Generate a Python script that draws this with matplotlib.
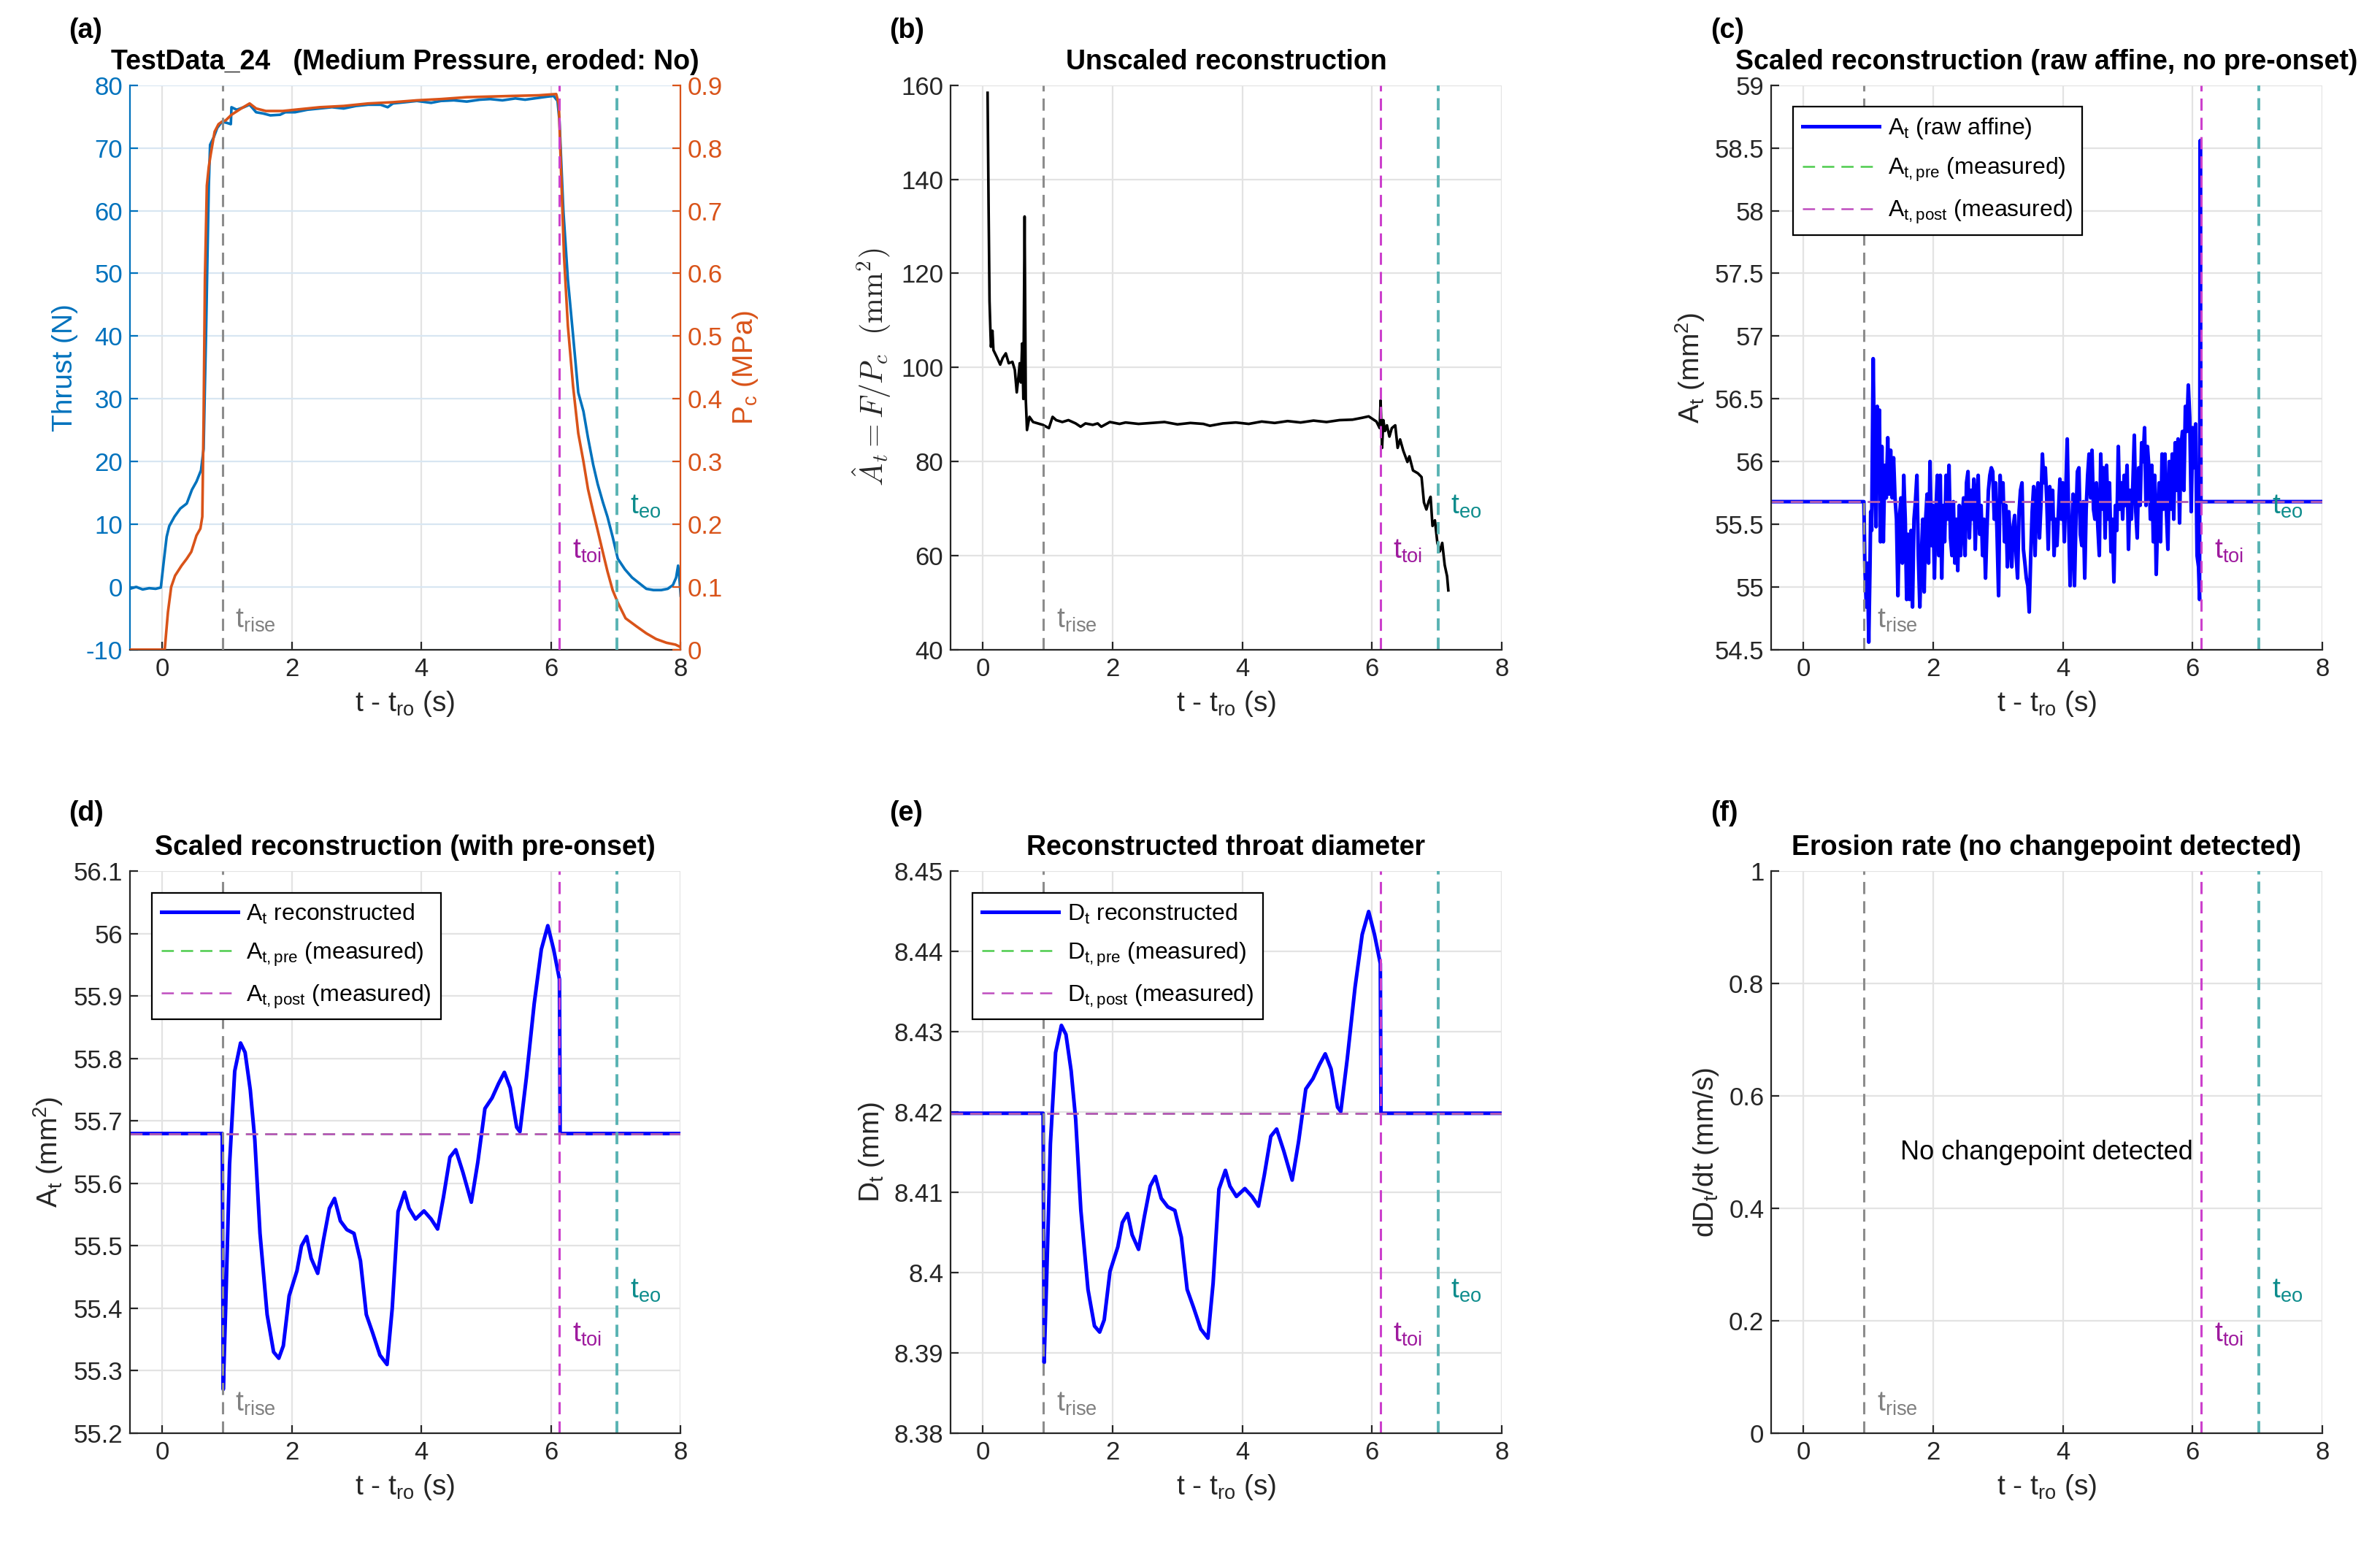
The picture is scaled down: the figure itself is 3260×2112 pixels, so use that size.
import numpy as np
import matplotlib
matplotlib.use('Agg')
import matplotlib.pyplot as plt
import matplotlib.transforms as mtransforms
from matplotlib.ticker import FuncFormatter, MultipleLocator

plt.rcParams['font.family'] = ['Liberation Sans', 'DejaVu Sans']
plt.rcParams['mathtext.fontset'] = 'custom'
plt.rcParams['mathtext.rm'] = 'Liberation Sans'
plt.rcParams['mathtext.it'] = 'Liberation Sans:italic'
plt.rcParams['mathtext.bf'] = 'Liberation Sans:bold'
plt.rcParams['lines.scale_dashes'] = False

# event times (s, relative to t_ro)
t_rise = 0.93
t_toi = 6.13
t_eo = 7.02

# (a) thrust and chamber pressure
t_force = [-0.5, -0.4, -0.3, -0.2, -0.1, -0.02, 0.03, 0.07, 0.11, 0.19, 0.28, 0.38, 0.46, 0.53,
           0.6, 0.64, 0.66, 0.68, 0.70, 0.72, 0.74, 0.8, 0.85, 0.925, 1.0, 1.06, 1.07, 1.15, 1.26,
           1.35, 1.45, 1.56, 1.67, 1.82, 1.9, 2.05, 2.24, 2.43, 2.62, 2.8, 2.99, 3.18, 3.37, 3.48,
           3.56, 3.75, 3.93, 4.15, 4.3, 4.5, 4.7, 4.9, 5.06, 5.25, 5.45, 5.6, 5.81, 5.95, 6.04,
           6.1, 6.13, 6.19, 6.26, 6.34, 6.42, 6.5, 6.57, 6.65, 6.72, 6.8, 6.87, 6.95, 7.03, 7.14,
           7.25, 7.36, 7.47, 7.58, 7.7, 7.8, 7.88, 7.93, 7.96, 7.98, 8.0]
thrust = [-0.3, 0.0, -0.4, -0.2, -0.3, -0.1, 4.5, 8.0, 9.7, 11.2, 12.5, 13.3, 15.5, 16.8,
          18.6, 22.0, 32.0, 41.6, 53.0, 63.9, 70.5, 71.8, 73.2, 74.2, 74.0, 73.8, 76.5, 76.1, 76.5,
          76.9, 75.7, 75.5, 75.2, 75.3, 75.7, 75.7, 76.1, 76.3, 76.5, 76.3, 76.7, 76.9, 76.9, 76.5,
          77.1, 77.3, 77.5, 77.2, 77.5, 77.6, 77.4, 77.7, 77.8, 77.6, 77.9, 77.7, 78.0, 78.2, 78.3,
          77.5, 74.3, 60.0, 49.0, 40.1, 31.0, 28.0, 23.8, 19.5, 16.4, 13.5, 11.2, 8.0, 4.5, 2.8,
          1.5, 0.6, -0.3, -0.5, -0.5, -0.3, 0.3, 1.5, 3.4, 1.5, -1.4]

t_pc = [-0.5, 0.0, 0.04, 0.09, 0.14, 0.2, 0.3, 0.38, 0.45, 0.53, 0.59, 0.62, 0.64, 0.66, 0.69,
        0.72, 0.75, 0.81, 0.87, 0.925, 0.98, 1.07, 1.22, 1.35, 1.45, 1.6, 1.86, 2.05, 2.43, 2.8,
        3.18, 3.56, 3.93, 4.3, 4.7, 5.06, 5.4, 5.81, 6.08, 6.12, 6.15, 6.2, 6.26, 6.34, 6.42, 6.5,
        6.57, 6.65, 6.72, 6.8, 6.87, 6.95, 7.03, 7.15, 7.32, 7.47, 7.62, 7.78, 7.92, 8.0]
pc_mpa = [0.0, 0.0, 0.0, 0.06, 0.10, 0.118, 0.134, 0.145, 0.156, 0.182, 0.193, 0.212, 0.368, 0.59,
          0.74, 0.77, 0.79, 0.826, 0.838, 0.842, 0.844, 0.853, 0.863, 0.871, 0.863, 0.859, 0.859,
          0.861, 0.865, 0.867, 0.871, 0.873, 0.876, 0.878, 0.881, 0.882, 0.883, 0.884, 0.886,
          0.87, 0.776, 0.628, 0.516, 0.42, 0.345, 0.30, 0.256, 0.22, 0.19, 0.155, 0.125, 0.095,
          0.075, 0.05, 0.037, 0.026, 0.017, 0.011, 0.008, 0.004]

# (b) unscaled reconstruction F/Pc (mm^2)
t_unscaled = [0.071, 0.086, 0.101, 0.116, 0.123, 0.146, 0.161, 0.21, 0.266, 0.304, 0.352, 0.397,
              0.454, 0.491, 0.521, 0.548, 0.567, 0.585, 0.604, 0.623, 0.642, 0.660, 0.679, 0.717,
              0.773, 0.848, 0.923, 1.017, 1.074, 1.130, 1.224, 1.318, 1.430, 1.506, 1.581, 1.694,
              1.769, 1.825, 1.957, 2.107, 2.2, 2.4, 2.6, 2.8, 3.0, 3.2, 3.4, 3.5, 3.7, 3.9, 4.1,
              4.3, 4.5, 4.7, 4.9, 5.1, 5.3, 5.5, 5.7, 5.85, 5.95, 6.07, 6.12, 6.134, 6.157, 6.176,
              6.202, 6.232, 6.27, 6.307, 6.36, 6.397, 6.435, 6.484, 6.548, 6.578, 6.634, 6.709,
              6.766, 6.803, 6.841, 6.878, 6.905, 6.935, 6.972, 7.01, 7.048, 7.085, 7.123, 7.16, 7.179]
a_unscaled = [158.4, 134.9, 114.1, 107.2, 104.4, 107.8, 103.7, 102.3, 100.6, 102.0, 103.0, 100.9,
              101.2, 99.5, 94.7, 98.1, 100.9, 96.8, 105.1, 93.3, 132.1, 93.3, 86.7, 89.5,
              88.4, 88.1, 87.8, 87.1, 89.5, 88.8, 88.4, 88.8, 88.1, 87.4, 88.1, 87.8,
              88.1, 87.4, 88.4, 88.0, 88.3, 88.0, 88.2, 88.4, 87.9, 88.2, 88.0, 87.6, 88.1, 88.3, 88.0,
              88.5, 88.2, 88.6, 88.3, 88.7, 88.4, 88.8, 88.9, 89.3, 89.6, 88.5, 87.1, 93.0, 82.9, 88.8,
              86.5, 87.7, 85.3, 87.1, 87.7, 82.9, 84.7, 82.3, 79.9, 81.1, 78.1, 77.5,
              76.7, 71.3, 69.8, 71.6, 72.5, 66.3, 67.5, 62.7, 60.9, 62.7, 58.0, 55.6, 52.6]

# (c) scaled reconstruction, raw affine (mm^2)
t_raw = [-0.5, 0.93, 0.945, 0.968, 0.986, 1.005, 1.024, 1.035, 1.05,
         1.073, 1.095, 1.118, 1.136, 1.155, 1.170, 1.185, 1.208, 1.230, 1.253,
         1.275, 1.298, 1.320, 1.343, 1.365, 1.388, 1.410, 1.433, 1.455, 1.478,
         1.500, 1.523, 1.545, 1.568, 1.590, 1.613, 1.635, 1.658, 1.680, 1.703,
         1.725, 1.748, 1.770, 1.793, 1.815, 1.838, 1.860, 1.883, 1.905, 1.928,
         1.950, 1.973, 1.996, 2.018, 2.041, 2.063, 2.086, 2.108, 2.131, 2.153,
         2.176, 2.198, 2.221, 2.243, 2.266, 2.288, 2.311, 2.333, 2.356, 2.378,
         2.401, 2.423, 2.446, 2.468, 2.491, 2.513, 2.536, 2.558, 2.581, 2.603,
         2.626, 2.648, 2.671, 2.693, 2.716, 2.738, 2.761, 2.783, 2.806, 2.828,
         2.851, 2.873, 2.896, 2.918, 2.941, 2.963, 2.986, 3.008, 3.031, 3.053,
         3.076, 3.099, 3.121, 3.144, 3.166, 3.189, 3.211, 3.234, 3.256, 3.279,
         3.301, 3.324, 3.346, 3.369, 3.391, 3.414, 3.436, 3.459, 3.481, 3.504,
         3.526, 3.549, 3.571, 3.594, 3.616, 3.639, 3.661, 3.684, 3.706,
         3.729, 3.752, 3.774, 3.797, 3.819, 3.842, 3.864, 3.887, 3.909, 3.932,
         3.954, 3.977, 3.999, 4.022, 4.044, 4.067, 4.089, 4.112, 4.134, 4.157,
         4.179, 4.202, 4.224, 4.247, 4.269, 4.292, 4.314, 4.337, 4.359, 4.382,
         4.404, 4.427, 4.449, 4.472, 4.494, 4.517, 4.539, 4.562, 4.584, 4.607,
         4.629, 4.652, 4.674, 4.697, 4.719, 4.742, 4.764, 4.787, 4.810, 4.832,
         4.855, 4.877, 4.900, 4.922, 4.945, 4.967, 4.990, 5.012, 5.035, 5.057,
         5.080, 5.102, 5.125, 5.147, 5.170, 5.192, 5.215, 5.237, 5.260, 5.282,
         5.305, 5.327, 5.350, 5.372, 5.395, 5.417, 5.440, 5.462, 5.485, 5.507,
         5.530, 5.552, 5.575, 5.597, 5.620, 5.642, 5.665, 5.687, 5.710, 5.732,
         5.755, 5.777, 5.800, 5.822, 5.845, 5.867, 5.890, 5.912, 5.935, 5.957,
         5.980, 6.002, 6.025, 6.048, 6.070, 6.093,
         6.108, 6.12, 6.13, 8.0]
a_raw = [55.68, 55.68, 55.16, 54.84, 55.19, 54.56, 55.16, 55.60, 55.45,
         56.82, 55.97, 55.48, 56.44, 55.83, 56.41, 55.36, 56.12, 55.36, 55.97,
         55.71, 56.19, 55.74, 56.09, 55.71, 56.03, 55.71, 55.54, 54.93, 55.54,
         55.71, 55.19, 55.89, 55.54, 54.90, 55.42, 54.90, 55.45, 54.84, 55.54,
         55.68, 55.89, 55.25, 54.84, 55.22, 55.54, 54.96, 55.54, 55.74, 55.19,
         56.00, 55.33, 55.65, 55.07, 55.60, 55.89, 55.25, 55.89, 55.07, 55.65,
         55.36, 55.89, 55.54, 55.97, 55.39, 55.25, 55.68, 55.19, 55.54, 55.13,
         55.65, 55.25, 55.54, 55.71, 55.25, 55.83, 55.92, 55.39, 55.77, 55.54,
         55.86, 55.30, 55.71, 55.89, 55.42, 55.65, 55.25, 55.54, 55.07, 55.45,
         55.77, 55.89, 55.95, 55.92, 55.54, 55.83, 55.39, 54.93, 55.89, 55.68,
         55.83, 55.36, 55.65, 55.16, 55.60, 55.36, 55.16, 55.48, 55.57, 55.25,
         55.07, 55.60, 55.77, 55.83, 55.30, 55.19, 55.07, 55.01, 54.80, 55.25,
         55.60, 55.80, 55.25, 55.71, 55.83, 55.39, 55.65, 56.06, 55.83,
         55.95, 55.68, 55.30, 55.80, 55.54, 55.77, 55.25, 55.54, 55.33, 55.60,
         55.86, 55.54, 55.83, 55.36, 55.74, 56.18, 55.54, 55.01, 55.42, 55.74,
         55.01, 55.54, 55.92, 55.95, 55.42, 55.33, 55.68, 55.07, 55.62, 55.89,
         56.06, 55.71, 56.09, 55.62, 55.54, 55.83, 55.48, 55.25, 56.06, 55.62,
         55.95, 55.39, 55.97, 55.54, 55.83, 55.28, 55.54, 55.04, 55.65, 55.45,
         56.12, 55.62, 55.83, 55.54, 55.89, 55.65, 55.97, 55.30, 55.77, 55.54,
         55.83, 56.21, 55.60, 55.39, 55.95, 55.65, 56.15, 56.00, 56.27, 55.65,
         56.12, 55.95, 55.54, 55.97, 55.36, 55.89, 55.10, 55.54, 55.83, 55.36,
         56.06, 55.62, 56.06, 55.60, 55.30, 56.00, 55.62, 56.06, 55.54, 56.15,
         55.77, 56.18, 55.51, 56.12, 56.24, 55.77, 56.44, 56.24, 56.61, 56.35,
         55.60, 56.27, 55.95, 56.30, 55.25, 55.16,
         54.90, 58.56, 55.68, 55.68]

# (d) scaled reconstruction with pre-onset (mm^2)
t_smooth = [-0.5, 0.928, 0.943, 0.98, 1.04, 1.12, 1.21, 1.28, 1.36, 1.43, 1.51, 1.62, 1.72, 1.8,
            1.87, 1.96, 2.08, 2.15, 2.23, 2.30, 2.40, 2.49, 2.58, 2.66, 2.75, 2.85, 2.96, 3.06,
            3.15, 3.25, 3.36, 3.47, 3.55, 3.64, 3.74, 3.81, 3.91, 4.04, 4.15, 4.25, 4.34, 4.44,
            4.53, 4.64, 4.77, 4.87, 4.98, 5.09, 5.19, 5.28, 5.37, 5.47, 5.52, 5.62, 5.74, 5.85,
            5.95, 6.04, 6.13, 6.14, 8.0]
a_smooth = [55.68, 55.68, 55.27, 55.40, 55.63, 55.78, 55.825, 55.81, 55.75, 55.67, 55.52, 55.39,
            55.33, 55.32, 55.34, 55.42, 55.46, 55.50, 55.515, 55.48, 55.456, 55.51, 55.56, 55.576,
            55.54, 55.526, 55.52, 55.476, 55.39, 55.36, 55.325, 55.31, 55.40, 55.555, 55.586,
            55.56, 55.543, 55.556, 55.543, 55.527, 55.578, 55.642, 55.654, 55.618, 55.57, 55.634,
            55.72, 55.737, 55.76, 55.778, 55.753, 55.69, 55.683, 55.77, 55.888, 55.975, 56.013,
            55.975, 55.927, 55.68, 55.68]

a_pre = 55.68
a_post = 55.68

# (e) throat diameter from area
d_smooth = np.sqrt(4 * np.array(a_smooth) / np.pi)
d_pre = np.sqrt(4 * a_pre / np.pi)
d_post = np.sqrt(4 * a_post / np.pi)

# colours
c_thrust = '#0072BD'
c_pc = '#D95319'
c_rise, c_rise_txt = (0.55, 0.55, 0.55), (0.5, 0.5, 0.5)
c_toi, c_toi_txt = (0.8, 0.25, 0.8), (0.62, 0.1, 0.62)
c_eo, c_eo_txt = (0.35, 0.7, 0.7), (0.05, 0.55, 0.55)
c_green = (0.3, 0.8, 0.3)
c_mag = (0.75, 0.3, 0.75)
c_axis = '#262626'

TICK = 12.5
LAB = 14
TITLE = 13.5


def fmt(v, pos):
    return f'{round(v, 6):g}'


def setup(ax, ylim, ystep, title, ylabel=None):
    ax.set_xlim(-0.5, 8)
    ax.set_ylim(*ylim)
    ax.xaxis.set_major_locator(MultipleLocator(2))
    ax.yaxis.set_major_locator(MultipleLocator(ystep))
    ax.xaxis.set_major_formatter(FuncFormatter(fmt))
    ax.yaxis.set_major_formatter(FuncFormatter(fmt))
    for s in ['top', 'right']:
        ax.spines[s].set_visible(False)
    for s in ['left', 'bottom']:
        ax.spines[s].set_linewidth(0.8)
        ax.spines[s].set_color(c_axis)
    ax.tick_params(direction='in', length=4, width=0.8, labelsize=TICK, colors=c_axis)
    ax.grid(True, color='#e3e3e3', lw=0.8)
    ax.set_axisbelow(True)
    ax.set_xlabel('t - t$_\\mathrm{ro}$ (s)', fontsize=LAB, color=c_axis)
    if ylabel:
        ax.set_ylabel(ylabel, fontsize=LAB, color=c_axis)
    ax.set_title(title, fontsize=TITLE, fontweight='bold', pad=8)


def events(ax):
    tr = mtransforms.blended_transform_factory(ax.transData, ax.transAxes)
    ax.axvline(t_rise, color=c_rise, lw=1.1, ls='--', dashes=(6, 3.5))
    ax.axvline(t_toi, color=c_toi, lw=1.1, ls='--', dashes=(6, 3.5))
    ax.axvline(t_eo, color=c_eo, lw=1.4, ls='--', dashes=(6, 3.5))
    ax.text(t_rise + 0.2, 0.052, 't$_\\mathrm{rise}$', transform=tr, color=c_rise_txt,
            fontsize=LAB, va='center', ha='left')
    ax.text(t_toi + 0.2, 0.175, 't$_\\mathrm{toi}$', transform=tr, color=c_toi_txt,
            fontsize=LAB, va='center', ha='left')
    ax.text(t_eo + 0.2, 0.254, 't$_\\mathrm{eo}$', transform=tr, color=c_eo_txt,
            fontsize=LAB, va='center', ha='left')


def legend(ax):
    leg = ax.legend(loc='upper left', bbox_to_anchor=(0.04, 0.962), borderaxespad=0,
                    fontsize=11.5, fancybox=False, framealpha=1, edgecolor='black',
                    handlelength=3.3, handletextpad=0.35, borderpad=0.4, labelspacing=0.65)
    leg.get_frame().set_linewidth(0.8)


fig = plt.figure(figsize=(16.3, 10.56), dpi=200)
W = 0.2315
H1, H2 = 0.366, 0.3643
cols = [0.0545, 0.3994, 0.7442]
rows = [0.5787, 0.0706]

# (a)
ax = fig.add_axes([cols[0], rows[0], W, H1])
ax.plot(t_force, thrust, color=c_thrust, lw=1.3)
setup(ax, (-10, 80), 10, 'TestData_24   (Medium Pressure, eroded: No)')
ax.set_ylabel('Thrust (N)', fontsize=LAB, color=c_thrust)
ax.tick_params(axis='y', colors=c_thrust)
ax.spines['left'].set_color(c_thrust)
ax.yaxis.grid(True, color='#d8e6f2', lw=0.8)
ax2 = ax.twinx()
ax2.plot(t_pc, pc_mpa, color=c_pc, lw=1.3)
ax2.set_ylim(0, 0.9)
ax2.yaxis.set_major_locator(MultipleLocator(0.1))
ax2.yaxis.set_major_formatter(FuncFormatter(fmt))
for s in ['top', 'left', 'bottom']:
    ax2.spines[s].set_visible(False)
ax2.spines['right'].set_color(c_pc)
ax2.spines['right'].set_linewidth(0.8)
ax2.tick_params(direction='in', length=4, width=0.8, labelsize=TICK, colors=c_pc)
ax2.set_ylabel('P$_\\mathrm{c}$ (MPa)', fontsize=LAB, color=c_pc)
events(ax2)

# (b)
ax = fig.add_axes([cols[1], rows[0], W, H1])
ax.plot(t_unscaled, a_unscaled, color='black', lw=1.3)
setup(ax, (40, 160), 20, 'Unscaled reconstruction')
ax.set_ylabel(r'$\hat{A}_t = F/P_c\ \ (\mathrm{mm}^2)$', fontsize=LAB + 1, color=c_axis,
              math_fontfamily='cm')
events(ax)

# (c)
ax = fig.add_axes([cols[2], rows[0], W, H1])
ax.plot(t_raw, a_raw, color='blue', lw=1.8, label='A$_\\mathrm{t}$ (raw affine)')
ax.axhline(a_pre, color=c_green, lw=0.9, ls='--', dashes=(6, 3.5),
           label='A$_\\mathrm{t,pre}$ (measured)')
ax.axhline(a_post, color=c_mag, lw=0.9, ls='--', dashes=(6, 3.5),
           label='A$_\\mathrm{t,post}$ (measured)')
setup(ax, (54.5, 59), 0.5, 'Scaled reconstruction (raw affine, no pre-onset)',
      'A$_\\mathrm{t}$ (mm$^2$)')
events(ax)
legend(ax)

# (d)
ax = fig.add_axes([cols[0], rows[1], W, H2])
ax.plot(t_smooth, a_smooth, color='blue', lw=1.8, label='A$_\\mathrm{t}$ reconstructed')
ax.axhline(a_pre, color=c_green, lw=0.9, ls='--', dashes=(6, 3.5),
           label='A$_\\mathrm{t,pre}$ (measured)')
ax.axhline(a_post, color=c_mag, lw=0.9, ls='--', dashes=(6, 3.5),
           label='A$_\\mathrm{t,post}$ (measured)')
setup(ax, (55.2, 56.1), 0.1, 'Scaled reconstruction (with pre-onset)',
      'A$_\\mathrm{t}$ (mm$^2$)')
events(ax)
legend(ax)

# (e)
ax = fig.add_axes([cols[1], rows[1], W, H2])
ax.plot(t_smooth, d_smooth, color='blue', lw=1.8, label='D$_\\mathrm{t}$ reconstructed')
ax.axhline(d_pre, color=c_green, lw=0.9, ls='--', dashes=(6, 3.5),
           label='D$_\\mathrm{t,pre}$ (measured)')
ax.axhline(d_post, color=c_mag, lw=0.9, ls='--', dashes=(6, 3.5),
           label='D$_\\mathrm{t,post}$ (measured)')
setup(ax, (8.38, 8.45), 0.01, 'Reconstructed throat diameter', 'D$_\\mathrm{t}$ (mm)')
events(ax)
legend(ax)

# (f)
ax = fig.add_axes([cols[2], rows[1], W, H2])
setup(ax, (0, 1), 0.2, 'Erosion rate (no changepoint detected)',
      'dD$_\\mathrm{t}$/dt (mm/s)')
events(ax)
ax.text(3.75, 0.5, 'No changepoint detected', fontsize=13, ha='center', va='center',
        color='black')

# panel letters
for x, y, s in [(0.0288, 0.980, '(a)'), (0.3737, 0.980, '(b)'), (0.7186, 0.980, '(c)'),
                (0.0288, 0.4725, '(d)'), (0.3737, 0.4725, '(e)'), (0.7186, 0.4725, '(f)')]:
    fig.text(x, y, s, fontsize=13.5, fontweight='bold', ha='left', va='center')

fig.savefig('out.png', dpi=200)
